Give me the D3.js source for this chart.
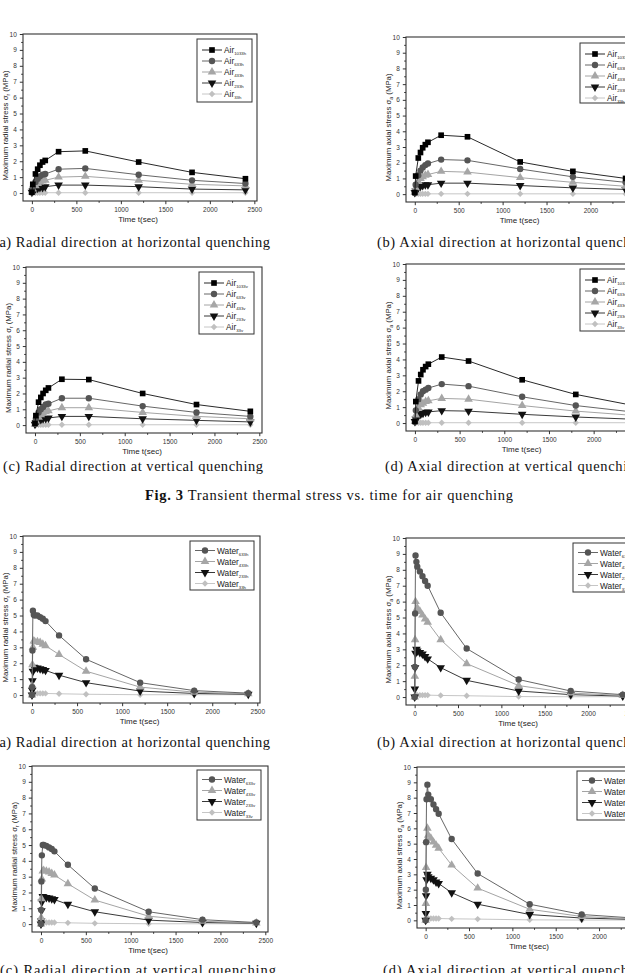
<!DOCTYPE html>
<html>
<head>
<meta charset="utf-8">
<script src="https://cdnjs.cloudflare.com/ajax/libs/d3/7.8.5/d3.min.js"></script>
<style>
  body { margin: 0; background: #fff; }
  svg text { font-family: "Liberation Sans", Arial, sans-serif; }
  .cap { font-family: "Liberation Serif", "Times New Roman", serif !important; font-size: 14.5px; fill: #111; }
</style>
</head>
<body>
<svg id="fig" width="625" height="973"></svg>
<script>
// time axes (sec)
const airTime = [0, 10, 40, 65, 90, 120, 150, 300, 600, 1200, 1800, 2400];
const waterTime = [0, 2, 5, 10, 20, 30, 60, 90, 120, 150, 300, 600, 1200, 1800, 2400];

const airKeys = ["1033", "633", "433", "233", "33"];
const waterKeys = ["633", "433", "233", "33"];

const xTicks = [0, 500, 1000, 1500, 2000, 2500];
const yTicks = [0, 1, 2, 3, 4, 5, 6, 7, 8, 9, 10];

// Fig 3 - air quenching (one row per key: 1033, 633, 433, 233, 33)
const airRadialH = [
  [0.05, 0.55, 1.2, 1.5, 1.75, 1.95, 2.05, 2.6, 2.65, 1.95, 1.3, 0.9],
  [0.05, 0.35, 0.7, 0.9, 1.05, 1.15, 1.2, 1.5, 1.55, 1.15, 0.8, 0.6],
  [0.05, 0.25, 0.45, 0.6, 0.7, 0.75, 0.8, 1.0, 1.05, 0.8, 0.55, 0.45],
  [0.05, 0.15, 0.25, 0.3, 0.35, 0.35, 0.4, 0.5, 0.5, 0.4, 0.25, 0.2],
  [0, 0.01, 0.02, 0.02, 0.02, 0.02, 0.02, 0.02, 0.02, 0.02, 0.02, 0.02]
];
const airAxialH = [
  [0.1, 1.15, 2.3, 2.65, 2.95, 3.15, 3.3, 3.75, 3.65, 2.05, 1.45, 1.0],
  [0.1, 0.6, 1.2, 1.5, 1.7, 1.85, 1.95, 2.2, 2.15, 1.6, 1.1, 0.75],
  [0.1, 0.4, 0.8, 1.0, 1.1, 1.2, 1.25, 1.45, 1.4, 1.05, 0.75, 0.5],
  [0.1, 0.2, 0.4, 0.5, 0.55, 0.6, 0.6, 0.7, 0.7, 0.55, 0.4, 0.3],
  [0, 0.01, 0.02, 0.02, 0.02, 0.02, 0.02, 0.02, 0.02, 0.02, 0.02, 0.02]
];
const airRadialV = [
  [0.1, 0.6, 1.45, 1.75, 2.0, 2.2, 2.35, 2.9, 2.88, 2.0, 1.3, 0.87],
  [0.1, 0.4, 0.8, 1.0, 1.15, 1.3, 1.35, 1.7, 1.7, 1.2, 0.8, 0.55],
  [0.05, 0.25, 0.5, 0.65, 0.75, 0.85, 0.9, 1.1, 1.1, 0.8, 0.55, 0.4],
  [0.05, 0.15, 0.3, 0.35, 0.4, 0.42, 0.45, 0.55, 0.55, 0.4, 0.3, 0.2],
  [0, 0.01, 0.02, 0.02, 0.02, 0.02, 0.02, 0.02, 0.02, 0.02, 0.02, 0.02]
];
const airAxialV = [
  [0.1, 1.35, 2.65, 3.05, 3.35, 3.55, 3.7, 4.15, 3.9, 2.72, 1.8, 1.15],
  [0.1, 0.8, 1.5, 1.8, 2.0, 2.1, 2.2, 2.45, 2.32, 1.65, 1.1, 0.72],
  [0.1, 0.5, 0.95, 1.15, 1.25, 1.35, 1.4, 1.55, 1.5, 1.1, 0.75, 0.5],
  [0.1, 0.25, 0.45, 0.55, 0.62, 0.68, 0.7, 0.78, 0.75, 0.55, 0.38, 0.25],
  [0, 0.01, 0.02, 0.02, 0.02, 0.02, 0.02, 0.02, 0.02, 0.02, 0.02, 0.02]
];

// Fig 4 - water quenching (rows: 633, 433, 233, 33)
const waterRadialH = [
  [0, 0.5, 2.8, 5.3, 5.05, 5.0, 5.0, 4.9, 4.8, 4.65, 3.75, 2.25, 0.78, 0.28, 0.12],
  [0, 0.6, 1.9, 3.0, 3.4, 3.35, 3.35, 3.3, 3.2, 3.1, 2.55, 1.5, 0.5, 0.18, 0.08],
  [0, 0.3, 0.9, 1.5, 1.75, 1.7, 1.7, 1.65, 1.6, 1.55, 1.25, 0.78, 0.25, 0.1, 0.05],
  [0, 0.02, 0.05, 0.08, 0.1, 0.1, 0.1, 0.1, 0.1, 0.1, 0.08, 0.05, 0.02, 0.02, 0.02]
];
const waterAxialH = [
  [0, 1.9, 5.25, 8.9, 8.5, 8.2, 7.9, 7.6, 7.3, 7.0, 5.3, 3.05, 1.1, 0.38, 0.15],
  [0, 1.3, 3.6, 6.0, 5.4, 5.6, 5.4, 5.15, 4.9, 4.7, 3.6, 2.1, 0.72, 0.25, 0.1],
  [0, 0.5, 1.85, 2.75, 3.0, 2.9, 2.8, 2.7, 2.55, 2.4, 1.85, 1.05, 0.38, 0.15, 0.06],
  [0, 0.05, 0.08, 0.1, 0.12, 0.12, 0.12, 0.12, 0.12, 0.12, 0.1, 0.08, 0.03, 0.02, 0.02]
];
const waterRadialV = [
  [0, 0.9, 2.7, 4.35, 5.0, 5.0, 4.95, 4.85, 4.75, 4.6, 3.75, 2.25, 0.78, 0.28, 0.1],
  [0, 0.4, 1.6, 2.85, 3.35, 3.4, 3.35, 3.3, 3.2, 3.1, 2.55, 1.52, 0.5, 0.18, 0.07],
  [0, 0.2, 0.85, 1.4, 1.75, 1.7, 1.68, 1.65, 1.6, 1.55, 1.25, 0.78, 0.25, 0.1, 0.05],
  [0, 0.02, 0.05, 0.08, 0.1, 0.1, 0.1, 0.1, 0.1, 0.1, 0.08, 0.05, 0.02, 0.02, 0.02]
];
const waterAxialV = [
  [0, 2.0, 5.1, 7.9, 8.85, 8.2, 7.9, 7.55, 7.25, 6.95, 5.3, 3.05, 1.05, 0.38, 0.15],
  [0, 1.1, 3.45, 5.2, 6.0, 5.55, 5.35, 5.1, 4.9, 4.7, 3.6, 2.1, 0.72, 0.25, 0.1],
  [0, 0.45, 1.6, 2.65, 3.0, 2.85, 2.75, 2.65, 2.5, 2.4, 1.8, 1.05, 0.38, 0.15, 0.06],
  [0, 0.05, 0.08, 0.1, 0.12, 0.12, 0.12, 0.12, 0.12, 0.12, 0.1, 0.08, 0.03, 0.02, 0.02]
];

// marker look per key
const styles = {
  "1033": { shape: d3.symbolSquare, size: 32, rot: 0, fill: "#000", line: "#111" },
  "633":  { shape: d3.symbolCircle, size: 32, rot: 0, fill: "#555", line: "#555" },
  "433":  { shape: d3.symbolTriangle, size: 32, rot: 0, fill: "#a6a6a6", line: "#9a9a9a" },
  "233":  { shape: d3.symbolTriangle, size: 32, rot: 180, fill: "#111", line: "#222" },
  "33":   { shape: d3.symbolSquare, size: 20, rot: 45, fill: "#c0c0c0", line: "#c0c0c0" }
};

const panels = [
  { box: [23, 34, 234, 167], time: airTime, keys: airKeys, vals: airRadialH, name: "Air", sfx: "h", dir: "radial", sub: "r", leg: [197, 39, 55, 63] },
  { box: [406, 37, 231, 165], time: airTime, keys: airKeys, vals: airAxialH, name: "Air", sfx: "h", dir: "axial", sub: "a", leg: [580, 43, 60, 60] },
  { box: [26, 267, 236, 166], time: airTime, keys: airKeys, vals: airRadialV, name: "Air", sfx: "v", dir: "radial", sub: "r", leg: [199, 272, 55, 62] },
  { box: [406, 264, 235, 167], time: airTime, keys: airKeys, vals: airAxialV, name: "Air", sfx: "v", dir: "axial", sub: "a", leg: [580, 269, 60, 62] },
  { box: [23, 536, 237, 167], time: waterTime, keys: waterKeys, vals: waterRadialH, name: "Water", sfx: "h", dir: "radial", sub: "r", leg: [190, 541, 64, 49] },
  { box: [406, 538, 228, 167], time: waterTime, keys: waterKeys, vals: waterAxialH, name: "Water", sfx: "h", dir: "axial", sub: "a", leg: [573, 543, 64, 49] },
  { box: [32, 766, 236, 166], time: waterTime, keys: waterKeys, vals: waterRadialV, name: "Water", sfx: "v", dir: "radial", sub: "r", leg: [197, 770, 64, 50] },
  { box: [417, 767, 228, 161], time: waterTime, keys: waterKeys, vals: waterAxialV, name: "Water", sfx: "v", dir: "axial", sub: "a", leg: [577, 771, 64, 49] }
];

const svg = d3.select("#fig");

function drawPanel(p) {
  const [bx, by, bw, bh] = p.box;
  const g = svg.append("g");
  const x = d3.scaleLinear().domain([-100, 2530]).range([bx, bx + bw]);
  const y = d3.scaleLinear().domain([-0.5, 10]).range([by + bh, by]);

  // minor ticks
  g.append("g").attr("transform", `translate(0,${by + bh})`)
    .call(d3.axisBottom(x).tickValues([250, 750, 1250, 1750, 2250]).tickSize(1.8).tickFormat(""))
    .call(a => a.select(".domain").remove());
  g.append("g").attr("transform", `translate(${bx},0)`)
    .call(d3.axisLeft(y).tickValues(d3.range(0.5, 10, 1)).tickSize(1.8).tickFormat(""))
    .call(a => a.select(".domain").remove());

  const xa = g.append("g").attr("transform", `translate(0,${by + bh})`)
    .call(d3.axisBottom(x).tickValues(xTicks).tickFormat(d3.format("d")).tickSize(3.2).tickPadding(3));
  const ya = g.append("g").attr("transform", `translate(${bx},0)`)
    .call(d3.axisLeft(y).tickValues(yTicks).tickFormat(d3.format("d")).tickSize(3.2).tickPadding(3));
  [xa, ya].forEach(a => {
    a.select(".domain").remove();
    a.selectAll("text").attr("font-size", 6.5).attr("fill", "#333");
  });
  g.selectAll(".tick line").attr("stroke", "#333");

  g.append("rect").attr("x", bx).attr("y", by).attr("width", bw).attr("height", bh)
    .attr("fill", "none").attr("stroke", "#333").attr("stroke-width", 1.1);

  // axis titles
  g.append("text").attr("x", bx + bw / 2 - 2).attr("y", by + bh + 21)
    .attr("text-anchor", "middle").attr("font-size", 8).attr("fill", "#222").text("Time t(sec)");
  const yl = g.append("text")
    .attr("transform", `translate(${bx - 15},${by + bh / 2 + 8}) rotate(-90)`)
    .attr("text-anchor", "middle").attr("font-size", 7.8).attr("fill", "#222");
  yl.append("tspan").text(`Maximum ${p.dir} stress σ`);
  yl.append("tspan").attr("font-size", 5).attr("dy", 2).text(p.sub);
  yl.append("tspan").attr("dy", -2).text(" (MPa)");

  // series, lower ones first so 1033 sits on top
  const line = d3.line().x(d => x(d[0])).y(d => y(d[1]));
  p.keys.map((k, i) => ({ k, i })).reverse().forEach(({ k, i }) => {
    const st = styles[k];
    const pts = p.time.map((t, j) => [t, p.vals[i][j]]);
    g.append("path").datum(pts).attr("d", line)
      .attr("fill", "none").attr("stroke", st.line).attr("stroke-width", 0.9);
    g.selectAll(null).data(pts).enter().append("path")
      .attr("d", d3.symbol().type(st.shape).size(st.size))
      .attr("transform", d => `translate(${x(d[0])},${y(d[1])}) rotate(${st.rot})`)
      .attr("fill", st.fill);
  });

  // legend
  const [lx, ly, lw, lh] = p.leg;
  g.append("rect").attr("x", lx).attr("y", ly).attr("width", lw).attr("height", lh)
    .attr("fill", "#fff").attr("stroke", "#333").attr("stroke-width", 1);
  p.keys.forEach((k, i) => {
    const st = styles[k];
    const yy = ly + (p.keys.length === 5 ? 11 : 9.5) + i * 11;
    g.append("line").attr("x1", lx + 5).attr("x2", lx + 25).attr("y1", yy).attr("y2", yy)
      .attr("stroke", st.line).attr("stroke-width", 0.9);
    g.append("path").attr("d", d3.symbol().type(st.shape).size(st.size))
      .attr("transform", `translate(${lx + 15},${yy}) rotate(${st.rot})`).attr("fill", st.fill);
    const t = g.append("text").attr("x", lx + 27).attr("y", yy + 3)
      .attr("font-size", 8.3).attr("fill", "#222");
    t.append("tspan").text(p.name);
    t.append("tspan").attr("font-size", 4.3).attr("dy", 2.3).text(k + p.sfx);
  });
}

panels.forEach(drawPanel);

// captions
const captions = [
  { t: "(a) Radial direction at horizontal quenching", x: -6, y: 247, len: 276 },
  { t: "(b) Axial direction at horizontal quenching", x: 377, y: 247, len: 274 },
  { t: "(c) Radial direction at vertical quenching", x: 3, y: 471, len: 260 },
  { t: "(d) Axial direction at vertical quenching", x: 385, y: 471, len: 258 },
  { t: "(a) Radial direction at horizontal quenching", x: -6, y: 747, len: 276 },
  { t: "(b) Axial direction at horizontal quenching", x: 377, y: 747, len: 274 },
  { t: "(c) Radial direction at vertical quenching", x: 0, y: 975, len: 276 },
  { t: "(d) Axial direction at vertical quenching", x: 383, y: 975, len: 266 }
];
captions.forEach(c => {
  svg.append("text").attr("class", "cap").attr("x", c.x).attr("y", c.y)
    .attr("textLength", c.len).attr("lengthAdjust", "spacing").text(c.t);
});

const fig = svg.append("text").attr("class", "cap").attr("x", 145).attr("y", 500)
  .attr("textLength", 368).attr("lengthAdjust", "spacing");
fig.append("tspan").attr("font-weight", "bold").text("Fig. 3");
fig.append("tspan").text(" Transient thermal stress vs. time for air quenching");
</script>
</body>
</html>
